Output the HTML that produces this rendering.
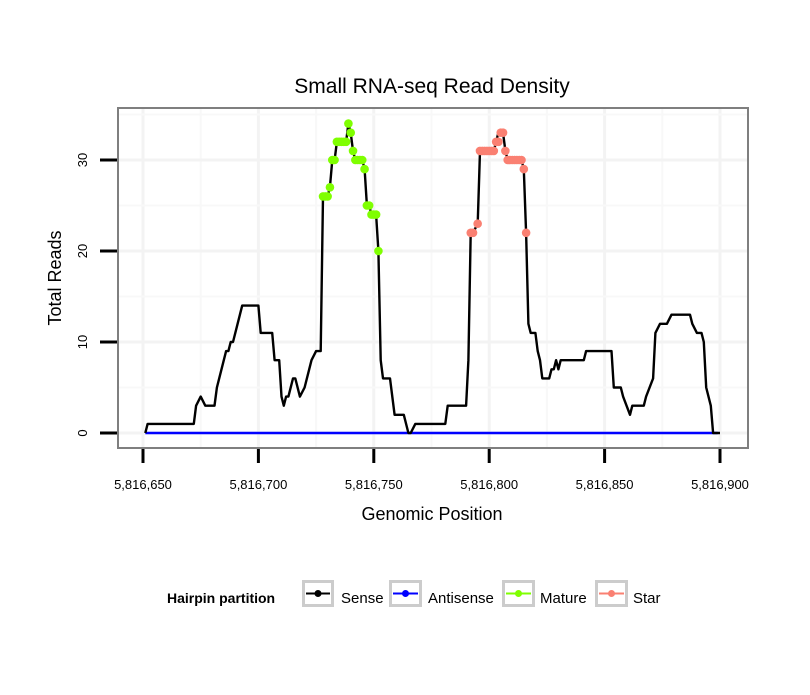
<!DOCTYPE html>
<html><head><meta charset="utf-8"><style>
body{margin:0;background:#fff;font-family:"Liberation Sans",sans-serif;}
svg text{font-family:"Liberation Sans",sans-serif;}
</style></head><body>
<svg id="chart" width="810" height="690" xmlns="http://www.w3.org/2000/svg">
<rect width="810" height="690" fill="#fff"/>
<text x="432" y="93" font-size="21" text-anchor="middle">Small RNA-seq Read Density</text>
<g id="grid"></g>
<g id="plot"></g>
<rect x="118" y="108" width="630" height="340" fill="none" stroke="#7f7f7f" stroke-width="2"/>
<g id="axes"></g>
<text x="432" y="520" font-size="18" text-anchor="middle">Genomic Position</text>
<text transform="translate(61,278) rotate(-90)" font-size="18" text-anchor="middle">Total Reads</text>
<g>
<text x="167" y="603" font-size="14" font-weight="bold">Hairpin partition</text>
<g><rect x="303.5" y="581.5" width="29" height="24" fill="#fff" stroke="#ccc" stroke-width="3"/><line x1="306" y1="593.5" x2="330" y2="593.5" stroke="#000" stroke-width="2"/><circle cx="318" cy="593.5" r="3.5" fill="#000"/><text x="341" y="603" font-size="15">Sense</text></g>
<g><rect x="390.5" y="581.5" width="30" height="24" fill="#fff" stroke="#ccc" stroke-width="3"/><line x1="393" y1="593.5" x2="418" y2="593.5" stroke="#00f" stroke-width="2"/><circle cx="405.5" cy="593.5" r="3.5" fill="#00f"/><text x="428" y="603" font-size="15">Antisense</text></g>
<g><rect x="503.5" y="581.5" width="30" height="24" fill="#fff" stroke="#ccc" stroke-width="3"/><line x1="506" y1="593.5" x2="531" y2="593.5" stroke="#7fff00" stroke-width="2"/><circle cx="518.5" cy="593.5" r="3.5" fill="#7fff00"/><text x="540" y="603" font-size="15">Mature</text></g>
<g><rect x="596.5" y="581.5" width="30" height="24" fill="#fff" stroke="#ccc" stroke-width="3"/><line x1="599" y1="593.5" x2="624" y2="593.5" stroke="#fa8072" stroke-width="2"/><circle cx="611.5" cy="593.5" r="3.5" fill="#fa8072"/><text x="633" y="603" font-size="15">Star</text></g>
</g>
</svg>
<script>
const xTicks=[5816650,5816700,5816750,5816800,5816850,5816900];
const yTicks=[0,10,20,30];
const BASE=5816000;
const senseOffset=[651,652,672,673,675,677,681,682,686,687,688,689,691,692,693,700,701,706,707,709,710,711,712,713,715,716,718,720,722,723,725,727,728,730,731,732,733,734,738,739,740,741,742,745,746,747,748,749,751,752,753,754,757,759,763,765,766,768,781,782,790,791,792,793,795,796,802,803,804,806,807,808,814,815,816,817,818,820,821,822,823,826,827,828,829,830,831,841,842,853,854,857,858,861,862,867,868,871,872,874,877,879,887,888,890,892,893,894,896,897,900];
const senseVal=   [0,  1,  1,  3,  4,  3,  3,  5,  9,  9, 10, 10, 12, 13, 14, 14, 11, 11,  8,  8,  4,  3,  4,  4,  6,  6,  4,  5,  7,  8,  9,  9, 26, 26, 27, 30, 30, 32, 32, 34, 33, 31, 30, 30, 29, 25, 25, 24, 24, 20,  8,  6,  6,  2,  2,  0,  0,  1,  1,  3,  3,  8, 22, 22, 23, 31, 31, 32, 33, 33, 31, 30, 30, 29, 22, 12, 11, 11,  9,  8,  6,  6,  7,  7,  8,  7,  8,  8,  9,  9,  5,  5,  4,  2,  3,  3,  4,  6, 11, 12, 12, 13, 13, 12, 11, 11, 10,  5,  3,  0,  0];
const antiPos=[5816651,5816899];
const antiVal=[0,0];
const matOffset=[728,729,730,731,732,733,734,735,736,737,738,739,740,741,742,743,744,745,746,747,748,749,750,751,752];
const matVal=   [26, 26, 26, 27, 30, 30, 32, 32, 32, 32, 32, 34, 33, 31, 30, 30, 30, 30, 29, 25, 25, 24, 24, 24, 20];
const starOffset=[792,793,795,796,797,798,799,800,801,802,803,804,805,806,807,808,809,810,811,812,813,814,815,816];
const starVal=   [22, 22, 23, 31, 31, 31, 31, 31, 31, 31, 32, 32, 33, 33, 31, 30, 30, 30, 30, 30, 30, 30, 29, 22];
const NS="http://www.w3.org/2000/svg";
function xs(p){return 143+(p-5816650)*(577/250);}
function ys(v){return 433-v*9.1;}
function mk(t,a,parent){const e=document.createElementNS(NS,t);for(const k in a)e.setAttribute(k,a[k]);parent.appendChild(e);return e;}
const grid=document.getElementById('grid'),plot=document.getElementById('plot'),axes=document.getElementById('axes');
mk('rect',{x:118,y:108,width:630,height:340,fill:'#fff'},grid);
for(let i=0;i<xTicks.length;i++){
  const x=xs(xTicks[i]);
  const g=mk('line',{x1:x,x2:x,y1:108,y2:448,stroke:'#f3f3f3','stroke-width':3},grid);
  
  
  if(i<xTicks.length-1){const xm=xs((xTicks[i]+xTicks[i+1])/2);
    const m=mk('line',{x1:xm,x2:xm,y1:108,y2:448,stroke:'#f8f8f8','stroke-width':2},grid);
    
    }
  const t=mk('line',{x1:x,x2:x,y1:449,y2:463,stroke:'#000','stroke-width':3},axes);
  
  
  const l=mk('text',{x:x,y:489,'font-size':13,'text-anchor':'middle'},axes);
  l.textContent=xTicks[i].toLocaleString('en-US');
  
  
}
for(let i=0;i<yTicks.length;i++){
  const y=ys(yTicks[i]);
  const g=mk('line',{x1:118,x2:748,y1:y,y2:y,stroke:'#f3f3f3','stroke-width':3},grid);
  
  
  const ym=ys(yTicks[i]+5);
  const m=mk('line',{x1:118,x2:748,y1:ym,y2:ym,stroke:'#f8f8f8','stroke-width':2},grid);
  
  
  const t=mk('line',{x1:100,x2:117,y1:y,y2:y,stroke:'#000','stroke-width':3},axes);
  
  
  const l=mk('text',{transform:`translate(87,${y}) rotate(-90)`,'font-size':13,'text-anchor':'middle'},axes);
  l.textContent=yTicks[i];
  
  
}
function line(P,V,c,name){
  const d=P.map((p,i)=>(i?'L':'M')+xs(p).toFixed(1)+','+ys(V[i]).toFixed(1)).join(' ');
  const e=mk('path',{d:d,fill:'none',stroke:c,'stroke-width':2.4,'stroke-linejoin':'round'},plot);
  
  
}
line(antiPos,antiVal,'#0000ff','antisense-line');
line(senseOffset.map(o=>BASE+o),senseVal,'#000','sense-line');
function pts(P,V,c,name){
  for(let i=0;i<P.length;i++){
    const e=mk('circle',{cx:xs(P[i]),cy:ys(V[i]),r:4.3,fill:c},plot);
    
    
  }
}
pts(matOffset.map(o=>BASE+o),matVal,'#7fff00','mature-point');
pts(starOffset.map(o=>BASE+o),starVal,'#fa8072','star-point');
</script>
</body></html>
